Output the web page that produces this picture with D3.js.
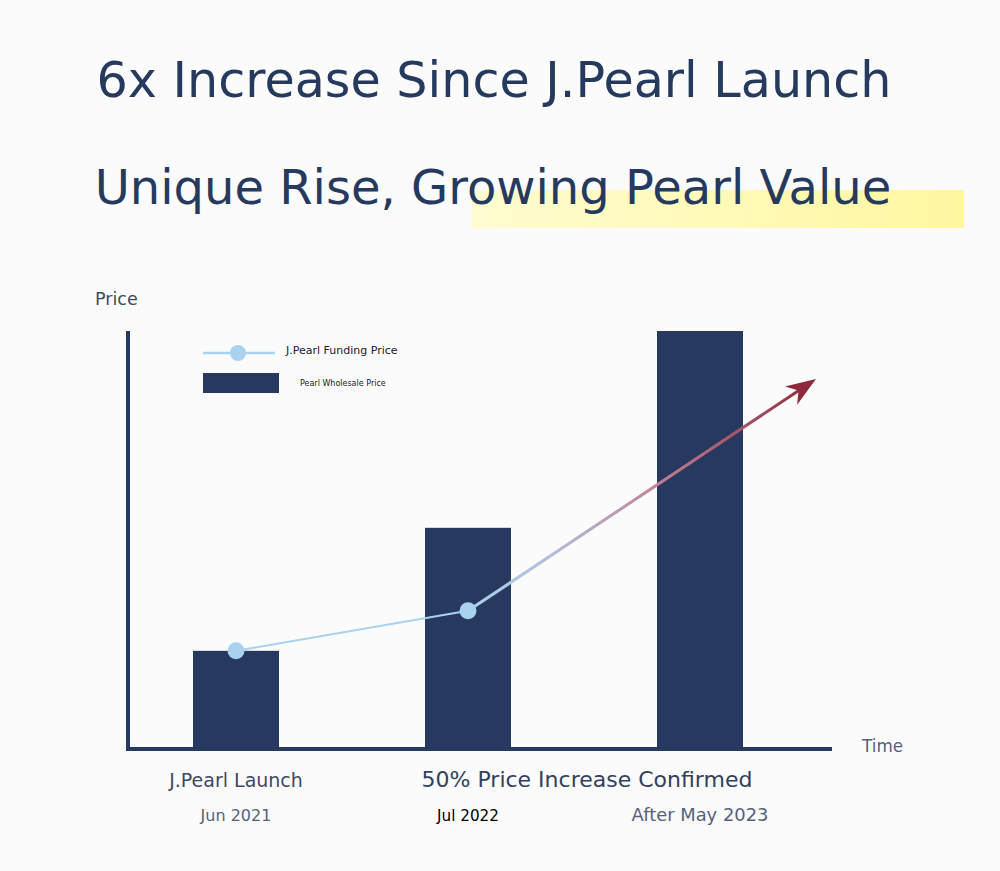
<!DOCTYPE html>
<html>
<head>
<meta charset="utf-8">
<script src="https://cdn.jsdelivr.net/npm/d3@7"></script>
<style>
  body { margin: 0; background: #fbfbfb; }
  svg { display: block; font-family: "DejaVu Sans", sans-serif; }
</style>
</head>
<body>
<svg id="chart" width="1000" height="871"></svg>
<script>
const categories = ["J.Pearl Launch", "50% Price Increase Confirmed", "Next Phase"];
const dates = ["Jun 2021", "Jul 2022", "After May 2023"];
const wholesale = [23.3, 52.8, 100];
const funding = [23.3, 32.9];
const arrowTarget = { index: 2.5, value: 88.5 };

const svg = d3.select("#chart");
const navy = "#27395f";

const x = d3.scaleLinear().domain([0, 2]).range([236, 700]);
const y = d3.scaleLinear().domain([0, 100]).range([748, 331]);
const barW = 86;

const defs = svg.append("defs");

// yellow highlight behind subtitle
const hl = defs.append("linearGradient").attr("id", "hl")
  .attr("x1", "0%").attr("x2", "100%");
hl.append("stop").attr("offset", "0%").attr("stop-color", "#fffcd0");
hl.append("stop").attr("offset", "100%").attr("stop-color", "#fff7a0");

svg.append("rect")
  .attr("x", 472).attr("y", 190)
  .attr("width", 492).attr("height", 38)
  .attr("fill", "url(#hl)");

svg.append("text")
  .attr("x", 494).attr("y", 97)
  .attr("text-anchor", "middle")
  .attr("font-size", 49.2)
  .attr("fill", "#263a5e")
  .text("6x Increase Since J.Pearl Launch");

svg.append("text")
  .attr("x", 493).attr("y", 204)
  .attr("text-anchor", "middle")
  .attr("font-size", 48)
  .attr("fill", "#263a5e")
  .text("Unique Rise, Growing Pearl Value");

// bars
svg.selectAll(".bar")
  .data(wholesale)
  .enter()
  .append("rect")
  .attr("class", "bar")
  .attr("x", (d, i) => x(i) - barW / 2)
  .attr("y", d => y(d))
  .attr("width", barW)
  .attr("height", d => y(0) - y(d))
  .attr("fill", navy);

// axes
svg.append("line")
  .attr("x1", 128).attr("x2", 128)
  .attr("y1", 331).attr("y2", 751)
  .attr("stroke", navy).attr("stroke-width", 4);
svg.append("line")
  .attr("x1", 126).attr("x2", 832)
  .attr("y1", 749).attr("y2", 749)
  .attr("stroke", navy).attr("stroke-width", 4);

svg.append("text")
  .attr("x", 95).attr("y", 305)
  .attr("font-size", 17.5)
  .attr("fill", "#3b4a66")
  .text("Price");

svg.append("text")
  .attr("x", 862).attr("y", 752)
  .attr("font-size", 16.8)
  .attr("fill", "#56627c")
  .text("Time");

// funding line
svg.append("line")
  .attr("x1", x(0)).attr("y1", y(funding[0]))
  .attr("x2", x(1)).attr("y2", y(funding[1]))
  .attr("stroke", "#a9d2ee").attr("stroke-width", 2);

const ax1 = x(1), ay1 = y(funding[1]);
const ax2 = x(arrowTarget.index), ay2 = y(arrowTarget.value);

const ag = defs.append("linearGradient").attr("id", "ag")
  .attr("gradientUnits", "userSpaceOnUse")
  .attr("x1", ax1).attr("y1", ay1).attr("x2", ax2).attr("y2", ay2);
ag.append("stop").attr("offset", "0%").attr("stop-color", "#a9d2ee");
ag.append("stop").attr("offset", "25%").attr("stop-color", "#b2bcd8");
ag.append("stop").attr("offset", "55%").attr("stop-color", "#c07f96");
ag.append("stop").attr("offset", "100%").attr("stop-color", "#8e2a3b");

// shorten shaft so it ends inside head
const ang = Math.atan2(ay2 - ay1, ax2 - ax1);
const headLen = 30, headW = 11;
svg.append("line")
  .attr("x1", ax1).attr("y1", ay1)
  .attr("x2", ax2 - Math.cos(ang) * headLen * 0.6)
  .attr("y2", ay2 - Math.sin(ang) * headLen * 0.6)
  .attr("stroke", "url(#ag)").attr("stroke-width", 3);

const bx = ax2 - Math.cos(ang) * headLen, by = ay2 - Math.sin(ang) * headLen;
const nx = -Math.sin(ang), ny = Math.cos(ang);
const notch = 0.7;
svg.append("path")
  .attr("d", `M${ax2},${ay2}
    L${bx + nx * headW},${by + ny * headW}
    L${ax2 - Math.cos(ang) * headLen * notch},${ay2 - Math.sin(ang) * headLen * notch}
    L${bx - nx * headW},${by - ny * headW}Z`)
  .attr("fill", "#8e2a3b");

svg.selectAll(".pt")
  .data(funding)
  .enter()
  .append("circle")
  .attr("class", "pt")
  .attr("cx", (d, i) => x(i))
  .attr("cy", d => y(d))
  .attr("r", 8.5)
  .attr("fill", "#a9d2ee");

// category labels
svg.append("text")
  .attr("x", x(0)).attr("y", 787)
  .attr("text-anchor", "middle")
  .attr("font-size", 19)
  .attr("fill", "#3b4a66")
  .text(categories[0]);
svg.append("text")
  .attr("x", (x(1) + x(2)) / 2 + 3).attr("y", 787)
  .attr("text-anchor", "middle")
  .attr("font-size", 22)
  .attr("fill", "#32405e")
  .text(categories[1]);

const dateSizes = [16, 15.2, 17.9];
const dateColors = ["#56627c", "#000000", "#56627c"];
svg.selectAll(".date")
  .data(dates)
  .enter()
  .append("text")
  .attr("class", "date")
  .attr("x", (d, i) => x(i))
  .attr("y", 821)
  .attr("text-anchor", "middle")
  .attr("font-size", (d, i) => dateSizes[i])
  .attr("fill", (d, i) => dateColors[i])
  .text(d => d);

// legend
const legend = svg.append("g");
legend.append("line")
  .attr("x1", 203).attr("x2", 275)
  .attr("y1", 353).attr("y2", 353)
  .attr("stroke", "#a9d2ee").attr("stroke-width", 2.5);
legend.append("circle")
  .attr("cx", 238).attr("cy", 353).attr("r", 8)
  .attr("fill", "#a9d2ee");
legend.append("text")
  .attr("x", 286).attr("y", 354)
  .attr("font-size", 11)
  .attr("fill", "#222")
  .text("J.Pearl Funding Price");
legend.append("rect")
  .attr("x", 203).attr("y", 373)
  .attr("width", 76).attr("height", 20)
  .attr("fill", navy);
legend.append("text")
  .attr("x", 300).attr("y", 386)
  .attr("font-size", 8)
  .attr("fill", "#222")
  .text("Pearl Wholesale Price");
</script>
</body>
</html>
